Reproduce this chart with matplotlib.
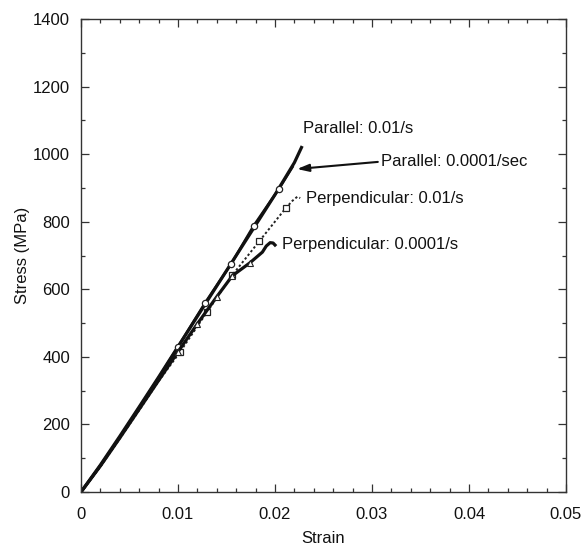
import matplotlib
matplotlib.use("Agg")
import matplotlib.pyplot as plt
from matplotlib.ticker import MultipleLocator

plt.rcParams['font.family'] = ['Liberation Sans', 'DejaVu Sans']

# Parallel, 0.01/s
par_fast_strain = [0, 0.002, 0.004, 0.006, 0.008, 0.010, 0.012, 0.014, 0.016, 0.018, 0.020, 0.022, 0.0228]
par_fast_stress = [0, 80, 165, 252, 340, 430, 520, 610, 700, 790, 880, 975, 1024]

# Parallel, 0.0001/sec (circles)
par_slow_strain = [0, 0.002, 0.004, 0.006, 0.008, 0.010, 0.0128, 0.0155, 0.0178, 0.0204, 0.0218]
par_slow_stress = [0, 78, 162, 250, 338, 430, 560, 676, 788, 897, 962]

# Perpendicular, 0.01/s (dotted, squares)
perp_fast_strain = [0, 0.002, 0.004, 0.006, 0.008, 0.0102, 0.013, 0.0156, 0.0184, 0.0211, 0.0218, 0.0223, 0.0226]
perp_fast_stress = [0, 75, 158, 242, 328, 414, 533, 642, 743, 840, 862, 874, 870]

# Perpendicular, 0.0001/s (solid, triangles)
perp_slow_strain = [0, 0.002, 0.004, 0.006, 0.008, 0.010, 0.012, 0.014, 0.0156, 0.0174, 0.0187, 0.0191, 0.0195, 0.0198, 0.0200]
perp_slow_stress = [0, 77, 160, 245, 330, 415, 498, 578, 640, 678, 710, 728, 738, 737, 731]

labels = ["Parallel: 0.01/s", "Parallel: 0.0001/sec", "Perpendicular: 0.01/s", "Perpendicular: 0.0001/s"]
xtick_vals = [0, 0.01, 0.02, 0.03, 0.04, 0.05]
xtick_labels = ['0', '0.01', '0.02', '0.03', '0.04', '0.05']

fig = plt.figure(figsize=(5.84, 5.45), dpi=100)
ax = fig.add_axes([81/584, 1 - 492/545, (566 - 81)/584, (492 - 19)/545])

ax.plot(par_fast_strain, par_fast_stress, color='#111111', lw=2.3, solid_capstyle='butt')
ax.plot(par_slow_strain, par_slow_stress, color='#111111', lw=1.9,
        marker='o', ms=4.5, mfc='white', mec='#222222', mew=0.9, markevery=[5, 6, 7, 8, 9])
ax.plot(perp_fast_strain, perp_fast_stress, color='#222222', lw=1.4, ls=(0, (1.2, 1.2)),
        marker='s', ms=5, mfc='white', mec='#222222', mew=0.9, markevery=[5, 6, 7, 8, 9])
ax.plot(perp_slow_strain, perp_slow_stress, color='#111111', lw=2.3,
        marker='^', ms=4, mfc='white', mec='#222222', mew=0.8, markevery=[5, 6, 7, 8, 9])

fs = 12
ax.text(0.0229, 1077, labels[0], fontsize=fs, va='center', ha='left', color='#111111')
ax.text(0.0309, 977, labels[1], fontsize=fs, va='center', ha='left', color='#111111')
ax.annotate('', xy=(0.02227, 956), xytext=(0.0306, 977),
            arrowprops=dict(arrowstyle='-|>,head_length=0.7,head_width=0.22', color='#111111', lw=1.5,
                            shrinkA=0, shrinkB=0))
ax.text(0.0232, 870, labels[2], fontsize=fs, va='center', ha='left', color='#111111')
ax.text(0.0207, 734, labels[3], fontsize=fs, va='center', ha='left', color='#111111')

ax.set_xlim(0, 0.05)
ax.set_ylim(0, 1400)
ax.set_xticks(xtick_vals)
ax.set_xticklabels(xtick_labels)
ax.xaxis.set_minor_locator(MultipleLocator(0.002))
ax.yaxis.set_major_locator(MultipleLocator(200))
ax.yaxis.set_minor_locator(MultipleLocator(100))
ax.tick_params(which='both', direction='in', top=True, right=True, colors='#333333',
               labelcolor='#111111', labelsize=fs, width=0.9)
ax.tick_params(which='major', length=6)
ax.tick_params(axis='x', which='major', pad=11)
ax.tick_params(axis='y', which='major', pad=8)
ax.tick_params(which='minor', length=3)
for s in ax.spines.values():
    s.set_color('#333333')
    s.set_linewidth(1.0)

ax.set_xlabel('Strain', fontsize=fs, color='#111111', labelpad=6)
ax.set_ylabel('Stress (MPa)', fontsize=fs, color='#111111', labelpad=2)

fig.savefig('out.png', dpi=100)
